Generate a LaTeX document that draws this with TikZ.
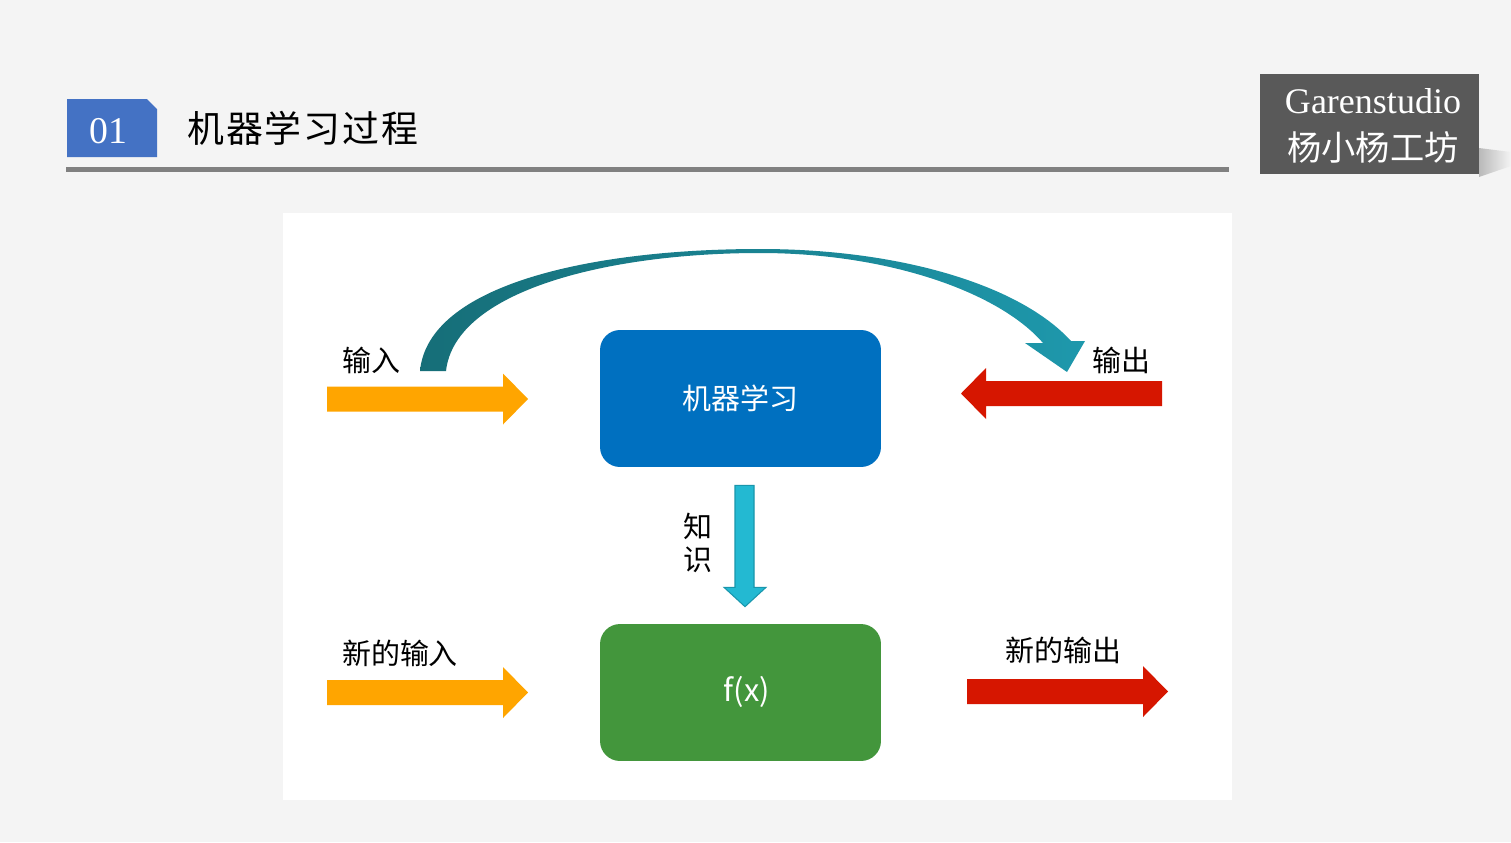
\documentclass[tikz,border=0pt]{standalone}
\usepackage{fontspec}
\newfontfamily\cjkfont{Noto Sans CJK SC}
\newfontfamily\seriffont{Liberation Serif}
\usetikzlibrary{calc}
\definecolor{BgGray}{RGB}{244,244,244}
\definecolor{TitleBlue}{RGB}{68,114,196}
\definecolor{RuleGray}{RGB}{128,128,128}
\definecolor{StampGray}{RGB}{89,89,89}
\definecolor{MlBlue}{RGB}{0,112,192}
\definecolor{FxGreen}{RGB}{67,150,60}
\definecolor{ArrowOrange}{RGB}{255,165,0}
\definecolor{ArrowRed}{RGB}{214,22,0}
\definecolor{KnowCyan}{RGB}{35,185,210}
\definecolor{KnowEdge}{RGB}{25,150,172}
\definecolor{TealDark}{RGB}{22,110,120}
\definecolor{TealLight}{RGB}{30,152,172}

\begin{document}
\begin{tikzpicture}[x=0.02cm,y=-0.02cm,
    box/.style={rounded corners=0.4cm,minimum width=5.62cm,minimum height=2.74cm,
                text=white,font=\cjkfont\fontsize{16.5}{20}\selectfont},
    lbl/.style={font=\cjkfont\fontsize{16.5}{20}\selectfont,text=black,inner sep=0pt},
    blockarrow/.pic={\fill[pic actions] (0,-12.5) -- (176,-12.5) -- (176,-25.5)
                     -- (201,0) -- (176,25.5) -- (176,12.5) -- (0,12.5) -- cycle;}]

    % page and panel
    \fill[BgGray] (0,0) rectangle (1511,842);
    \fill[white] (283,213) rectangle (1232,800);

    % title bar
    \fill[TitleBlue] (67,99) -- (147,99) -- (157,109) -- (157,157) -- (67,157) -- cycle;
    \node[text=white,font=\seriffont\fontsize{21.5}{24}\selectfont] (num) at (108,131) {01};
    \node[anchor=west,font=\cjkfont\fontsize{21}{24}\selectfont\addfontfeature{LetterSpace=5},inner sep=0pt]
      (title) at (187,128) {机器学习过程};
    \fill[RuleGray] (66,167) rectangle (1229,172);

    % stamp
    \shade[left color=gray!55,right color=BgGray] (1479,148) -- (1511,152) -- (1511,166) -- (1479,177) -- cycle;
    \fill[StampGray] (1260,74) rectangle (1479,174);
    \node[text=white,font=\seriffont\fontsize{20.5}{24}\selectfont] (brand) at (1373,101) {Garenstudio};
    \node[text=white,font=\cjkfont\fontsize{19.5}{24}\selectfont] (brandcn) at (1373,147) {杨小杨工坊};

    % boxes
    \node[box,fill=MlBlue] (ml) at (740.5,398.5) {机器学习};
    \node[box,fill=FxGreen] (fx) at (740.5,692.5) {};
    \node[text=white,font=\cjkfont\fontsize{17.5}{20}\selectfont] (fxlbl) at (747,692) {f(x)};

    % block arrows
    \pic[fill=ArrowOrange] (inarr) at (327,399) {blockarrow};
    \pic[fill=ArrowRed,rotate=180] (outarr) at (1162,393.5) {blockarrow};
    \pic[fill=ArrowOrange] (newinarr) at (327,692.5) {blockarrow};
    \pic[fill=ArrowRed] (newoutarr) at (967,691.5) {blockarrow};

    \node[lbl] (inlbl) at (371,360) {输入};
    \node[lbl] (outlbl) at (1121,360) {输出};
    \node[lbl] (newinlbl) at (400,653) {新的输入};
    \node[lbl] (newoutlbl) at (1063,650) {新的输出};

    % knowledge arrow
    \filldraw[fill=KnowCyan,draw=KnowEdge,line width=0.6pt]
      ($(ml.south)+(-5.5,18)$) -- ($(ml.south)+(13.5,18)$) -- ($(ml.south)+(13.5,120)$)
      -- ($(ml.south)+(25.5,120)$) -- ($(fx.north)+(4.5,-17)$) -- ($(ml.south)+(-16.5,120)$)
      -- ($(ml.south)+(-5.5,120)$) -- cycle;
    \node[lbl,align=center,font=\cjkfont\fontsize{16.5}{19}\selectfont] (know) at (698,543) {知\\识};

    % feedback arc
    \shade[left color=TealDark,right color=TealLight]
      (420,371) .. controls (428,285) and (590,249) .. (760,249)
      .. controls (900,249) and (1020,285) .. (1071,341)
      -- (1085,341) -- (1067,372) -- (1025,343) -- (1043,343)
      .. controls (1000,293) and (890,253) .. (760,253)
      .. controls (610,253) and (455,290) .. (446,371) -- cycle;
\end{tikzpicture}
\end{document}
